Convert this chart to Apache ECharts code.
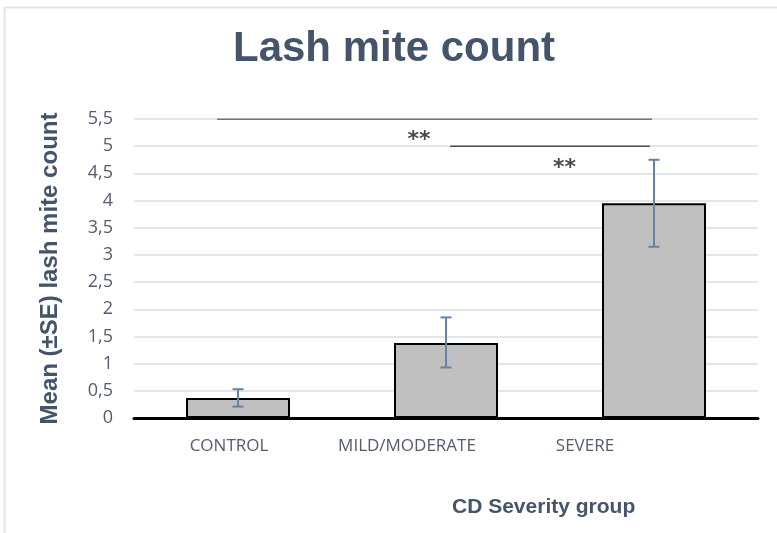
<!DOCTYPE html>
<html>
<head>
<meta charset="utf-8">
<script src="https://cdn.jsdelivr.net/npm/echarts@6/dist/echarts.min.js"></script>
<style>html,body{margin:0;padding:0;background:#fff;}#c{width:777px;height:533px;}</style>
</head>
<body>
<div id="c"></div>
<script>
const categories = ['CONTROL', 'MILD/MODERATE', 'SEVERE'];
const means = [0.37, 1.38, 3.95];
const seLow = [0.21, 0.93, 3.15];
const seHigh = [0.53, 1.85, 4.75];
// significance brackets in (value-x, y) data space; x: 0..2 = category index
const sigLine1 = [[-0.1, 5.5], [1.99, 5.5]];
const sigLine2 = [[1.02, 5.0], [1.98, 5.0]];
const sigMarks = [[0.87, 5.1], [1.57, 4.6]];
const sigText = ['**', '**'];

const chart = echarts.init(document.getElementById('c'), null, {renderer: 'canvas'});
const textColor = '#44546a';
const tickColor = '#535d6e';

const errData = categories.map((c, i) => [i, seLow[i], seHigh[i]]);

chart.setOption({
  backgroundColor: '#ffffff',
  animation: false,
  title: [
    {text: 'Lash mite count', left: 228, top: 23,
     textStyle: {fontFamily: 'Liberation Sans', fontWeight: 'bold', fontSize: 42, color: textColor}},
    {text: 'CD Severity group', left: 447, top: 492,
     textStyle: {fontFamily: 'Liberation Sans', fontWeight: 'bold', fontSize: 21, color: textColor}}
  ],
  graphic: [
    {type: 'line', shape: {x1: 4.5, y1: 7, x2: 4.5, y2: 533}, style: {stroke: '#e2e5eb', lineWidth: 2}},
    {type: 'line', shape: {x1: 4, y1: 7.5, x2: 777, y2: 7.5}, style: {stroke: '#e2e5eb', lineWidth: 2}}
  ],
  grid: [
    {left: 134, right: 19, top: 119, bottom: 115},
    {left: 140, width: 534, top: 119, bottom: 115}
  ],
  xAxis: [
    {type: 'category', gridIndex: 0, data: categories,
     axisLine: {lineStyle: {color: '#000', width: 3}},
     axisTick: {show: false}, axisLabel: {show: false}},
    {type: 'category', gridIndex: 1, data: categories,
     axisLine: {show: false}, axisTick: {show: false},
     axisLabel: {interval: 0, margin: 20, fontFamily: 'Open Sans', fontSize: 17, color: tickColor}},
    {type: 'value', gridIndex: 0, min: -0.5, max: 2.5, show: false}
  ],
  yAxis: [
    {type: 'value', gridIndex: 0, min: 0, max: 5.5, interval: 0.5,
     name: 'Mean (±SE) lash mite count', nameLocation: 'middle', nameGap: 72,
     nameTextStyle: {fontFamily: 'Liberation Sans', fontWeight: 'bold', fontSize: 24, color: textColor},
     axisLine: {show: false}, axisTick: {show: false},
     axisLabel: {margin: 21, fontFamily: 'Open Sans', fontSize: 18, color: tickColor,
                 formatter: v => String(v).replace('.', ',')},
     splitLine: {lineStyle: {color: '#d9dfe8', width: 1.5}}},
    {type: 'value', gridIndex: 1, show: false}
  ],
  series: [
    {type: 'bar', xAxisIndex: 0, yAxisIndex: 0, data: means, barWidth: '50%',
     itemStyle: {color: '#bfbfbf', borderColor: '#000', borderWidth: 2}},
    {type: 'custom', xAxisIndex: 0, yAxisIndex: 0, data: errData, z: 5,
     renderItem: function (params, api) {
       const lo = api.coord([api.value(0), api.value(1)]);
       const hi = api.coord([api.value(0), api.value(2)]);
       const hw = 5.5;
       const st = {stroke: '#6383a8', lineWidth: 2};
       return {type: 'group', children: [
         {type: 'line', shape: {x1: lo[0], y1: lo[1], x2: hi[0], y2: hi[1]}, style: st},
         {type: 'line', shape: {x1: hi[0] - hw, y1: hi[1], x2: hi[0] + hw, y2: hi[1]}, style: st},
         {type: 'line', shape: {x1: lo[0] - hw, y1: lo[1], x2: lo[0] + hw, y2: lo[1]}, style: st}
       ]};
     }},
    {type: 'line', xAxisIndex: 2, yAxisIndex: 0, data: sigLine1, symbol: 'none',
     lineStyle: {color: '#000', width: 1}, z: 4},
    {type: 'line', xAxisIndex: 2, yAxisIndex: 0, data: sigLine2, symbol: 'none',
     lineStyle: {color: '#000', width: 1}, z: 4},
    {type: 'scatter', xAxisIndex: 2, yAxisIndex: 0, symbolSize: 1, itemStyle: {color: 'rgba(0,0,0,0)'},
     data: sigMarks.map((p, i) => ({value: p, name: sigText[i]})),
     label: {show: true, position: 'inside', formatter: p => p.name,
             fontFamily: 'DejaVu Sans', fontWeight: 'bold', fontSize: 22, color: '#1a1a1a'}}
  ]
});
</script>
</body>
</html>
